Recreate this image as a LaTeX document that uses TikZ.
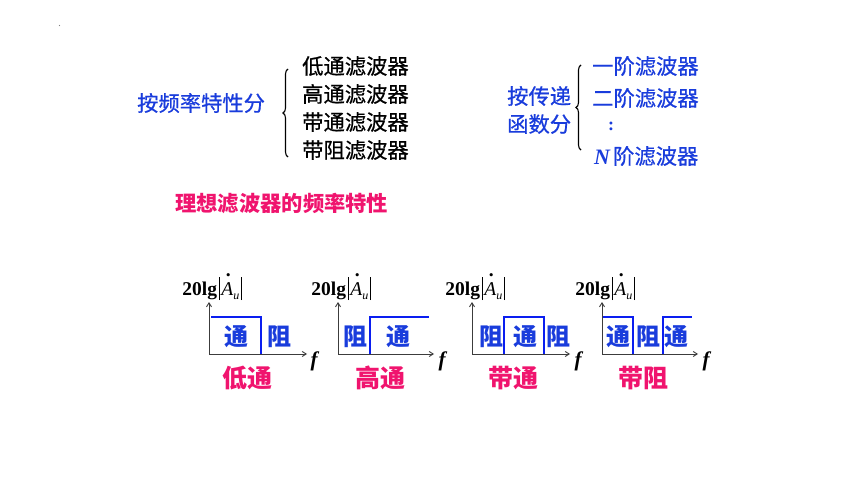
\documentclass[tikz,border=0pt]{standalone}
\usepackage{fontspec}
\setmainfont{Liberation Serif}
\newfontfamily\cjk{Noto Sans CJK SC}
\newfontfamily\cjkm[FakeBold=0.7]{Noto Sans CJK SC}
\usetikzlibrary{arrows.meta,decorations.pathreplacing}
\definecolor{txtblue}{RGB}{25,60,220}
\definecolor{lineblue}{RGB}{10,30,240}
\definecolor{mag}{RGB}{240,20,110}
\definecolor{axisgray}{RGB}{60,60,60}
\tikzset{
  toptext/.style={inner sep=0pt,anchor=west,font=\cjkm\fontsize{21.3pt}{24pt}\selectfont},
  bluetext/.style={toptext,text=txtblue},
  blacktext/.style={toptext,text=black},
  ttl/.style={inner sep=0pt,text=mag,font=\cjk\bfseries\fontsize{21.3pt}{24pt}\selectfont},
  lbl/.style={inner sep=0pt,text=txtblue,font=\cjk\bfseries\fontsize{24pt}{26pt}\selectfont},
  kind/.style={inner sep=0pt,text=mag,font=\cjk\bfseries\fontsize{25pt}{28pt}\selectfont},
  ylab/.style={inner sep=0pt,anchor=base,font=\fontsize{19.5pt}{22pt}\selectfont},
  flab/.style={inner sep=0pt,font=\bfseries\itshape\fontsize{21pt}{22pt}\selectfont},
  axis/.style={draw=axisgray,line width=0.9pt,-{Straight Barb[length=4pt,width=5pt]}},
  pass/.style={draw=lineblue,line width=2.6pt},
  brc/.style={draw=black,line width=1.1pt,decorate,decoration={brace,amplitude=5pt}},
}
\newcommand{\ylabtext}{\textbf{20lg}\hspace{1.5pt}\rule[-5pt]{0.7pt}{23pt}\hspace{2pt}\rlap{\hspace{4.5pt}\raisebox{19pt}{\textbf{.}}}\textit{A}\raisebox{-4pt}{\fontsize{12pt}{12pt}\selectfont\textit{u}}\hspace{1.5pt}\rule[-5pt]{0.7pt}{23pt}}
\begin{document}
\begin{tikzpicture}[x=1pt,y=-1pt]
\fill[white] (0,0) rectangle (860,484);
\useasboundingbox (0,0) rectangle (860,484);
\fill[gray] (59.5,25.5) circle (0.6);
% left classification
\node[bluetext] (cls1) at (137,103) {按频率特性分};
\draw[brc] (288,157) -- (288,69);
\node[blacktext] (l1) at (302,66) {低通滤波器};
\node[blacktext] (l2) at (302,94) {高通滤波器};
\node[blacktext] (l3) at (302,122) {带通滤波器};
\node[blacktext] (l4) at (302,150) {带阻滤波器};
% right classification
\node[bluetext] (cls2a) at (507,96) {按传递};
\node[bluetext] (cls2b) at (507,124) {函数分};
\draw[brc] (581,150) -- (581,65);
\node[bluetext] (r1) at (592,66) {一阶滤波器};
\node[bluetext] (r2) at (592,98) {二阶滤波器};
\node[bluetext,font=\rmfamily\bfseries\fontsize{18pt}{20pt}\selectfont] (r3) at (608,126) {:};
\node[bluetext] (r4) at (594,156) {{\rmfamily\bfseries\itshape\fontsize{22pt}{24pt}\selectfont N}\hspace{3pt}阶滤波器};
% title
\node[ttl,anchor=west] (title) at (175,203) {理想滤波器的频率特性};
% ---- diagram 1: low pass
\coordinate (o1) at (209,354); \coordinate (y1) at (209,302); \coordinate (x1) at (307,354);
\draw[axis] (o1) -- (y1); \draw[axis] (o1) -- (x1);
\node[ylab] (yl1) at (212,295) {\ylabtext};
\node[flab] (f1) at (314,361) {f};
\draw[pass] (211,317) -| (261,354);
\node[lbl] (a1) at (236,337) {通};
\node[lbl] (a2) at (279,337) {阻};
\node[kind] (k1) at (247,378) {低通};
% ---- diagram 2: high pass
\coordinate (o2) at (338,354); \coordinate (y2) at (338,302); \coordinate (x2) at (434,354);
\draw[axis] (o2) -- (y2); \draw[axis] (o2) -- (x2);
\node[ylab] (yl2) at (341,295) {\ylabtext};
\node[flab] (f2) at (442,361) {f};
\draw[pass] (370,354) |- (429,317);
\node[lbl] (b1) at (355,337) {阻};
\node[lbl] (b2) at (398,337) {通};
\node[kind] (k2) at (380,378) {高通};
% ---- diagram 3: band pass
\coordinate (o3) at (472,354); \coordinate (y3) at (472,302); \coordinate (x3) at (570,354);
\draw[axis] (o3) -- (y3); \draw[axis] (o3) -- (x3);
\node[ylab] (yl3) at (475,295) {\ylabtext};
\node[flab] (f3) at (578,361) {f};
\draw[pass] (504,354) |- (544,317) -- (544,354);
\node[lbl] (c1) at (491,337) {阻};
\node[lbl] (c2) at (525,337) {通};
\node[lbl] (c3) at (558,337) {阻};
\node[kind] (k3) at (513,378) {带通};
% ---- diagram 4: band stop
\coordinate (o4) at (602,354); \coordinate (y4) at (602,302); \coordinate (x4) at (698,354);
\draw[axis] (o4) -- (y4); \draw[axis] (o4) -- (x4);
\node[ylab] (yl4) at (605,295) {\ylabtext};
\node[flab] (f4) at (706,361) {f};
\draw[pass] (603,317) -| (633,354);
\draw[pass] (663,354) |- (692,317);
\node[lbl] (d1) at (618,337) {通};
\node[lbl] (d2) at (648,337) {阻};
\node[lbl] (d3) at (676,337) {通};
\node[kind] (k4) at (643,378) {带阻};
\end{tikzpicture}
\end{document}
